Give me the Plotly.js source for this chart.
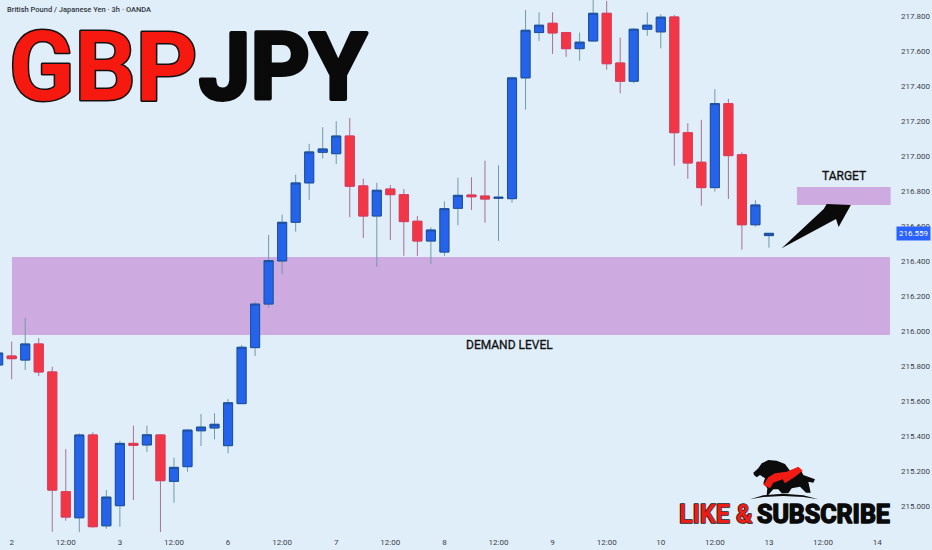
<!DOCTYPE html>
<html><head><meta charset="utf-8">
<script src="https://cdn.plot.ly/plotly-3.0.1.min.js"></script>
<style>html,body{margin:0;padding:0;background:#e0eef9}</style></head>
<body><div id="c" style="width:932px;height:550px"></div>
<script>
const idx=[-1,0,1,2,3,4,5,6,7,8,9,10,11,12,13,14,15,16,17,18,19,20,21,22,23,24,25,26,27,28,29,30,31,32,33,34,35,36,37,38,39,40,41,42,43,44,45,46,47,48,49,50,51,52,53,54,55,56];
const open=[215.806,215.857,215.834,215.926,215.766,215.082,214.933,215.406,214.887,215.002,215.358,215.349,215.406,215.141,215.225,215.43,215.446,215.345,215.585,215.905,216.154,216.4,216.621,216.846,217.021,217.013,217.114,216.829,216.657,216.811,216.779,216.627,216.514,216.451,216.701,216.777,216.771,216.758,216.756,217.446,217.705,217.758,217.705,217.613,217.657,217.815,217.531,217.427,217.724,217.709,217.794,217.133,216.964,216.819,217.299,217.007,216.607,216.545];
const high=[215.903,215.939,216.076,215.96,215.796,215.326,215.415,215.421,215.091,215.373,215.459,215.459,215.41,215.276,215.438,215.526,215.53,215.611,215.92,216.167,216.549,216.665,216.893,217.069,217.164,217.198,217.217,216.87,216.847,216.834,216.811,216.657,216.593,216.741,216.876,216.878,216.973,216.947,217.453,217.834,217.821,217.821,217.709,217.705,217.937,217.886,217.676,217.73,217.821,217.81,217.806,217.187,217.206,217.381,217.326,217.021,216.747,216.559];
const low=[215.777,215.724,215.777,215.743,214.853,214.916,214.851,214.876,214.87,214.882,215.034,215.309,214.851,215.019,215.196,215.343,215.381,215.301,215.585,215.857,216.133,216.324,216.567,216.749,216.985,216.954,216.65,216.531,216.367,216.52,216.429,216.429,216.383,216.429,216.604,216.691,216.619,216.514,216.733,217.265,217.657,217.583,217.566,217.545,217.651,217.493,217.358,217.415,217.686,217.615,216.945,216.87,216.716,216.796,216.754,216.465,216.596,216.476];
const close=[215.874,215.842,215.926,215.766,215.091,214.937,215.406,214.882,215.051,215.358,215.347,215.407,215.145,215.221,215.434,215.451,215.467,215.59,215.907,216.154,216.402,216.621,216.846,217.023,217.04,217.114,216.827,216.657,216.804,216.779,216.625,216.514,216.577,216.699,216.775,216.767,216.754,216.764,217.446,217.718,217.747,217.703,217.613,217.65,217.815,217.527,217.427,217.724,217.747,217.793,217.133,216.96,216.819,217.299,217.002,216.607,216.72,216.558];
const xTickVals=[0,4,8,12,16,20,24,28,32,36,40,44,48,52,56,60,64];
const xTickText=['2','12:00','3','12:00','6','12:00','7','12:00','8','12:00','9','12:00','10','12:00','13','12:00','14'];
const yTickVals=[215,215.2,215.4,215.6,215.8,216,216.2,216.4,216.6,216.8,217,217.2,217.4,217.6,217.8];
const lastPrice=216.559;
const demandZone=[215.977,216.423], targetZone=[216.72,216.823];

const W=892,H=533, X=p=>p/W, Y=p=>1-p/H;
const FONT='"Liberation Sans Narrow","Roboto",sans-serif', UI='Roboto,"Open Sans",sans-serif';
const BG='#e0eef9', ZONE='#cdaae0';
const blue='#2563eb', red='#f23645';
const wicks={type:'candlestick',x:idx,open,high,low,close,whiskerwidth:0,hoverinfo:'skip',showlegend:false,
  increasing:{line:{color:'#6f9ca8',width:1},fillcolor:'#6f9ca8'},
  decreasing:{line:{color:'#a8708f',width:1},fillcolor:'#a8708f'}};
const bodies={type:'candlestick',x:idx,open,close,
  high:open.map((o,i)=>Math.max(o,close[i])),low:open.map((o,i)=>Math.min(o,close[i])),
  whiskerwidth:0,hoverinfo:'skip',showlegend:false,
  increasing:{line:{color:'#1c4f9f',width:1},fillcolor:blue},
  decreasing:{line:{color:'#e23a57',width:1},fillcolor:red}};

// logo silhouette, pixel offsets from an anchor
const lg=(pts)=>'M'+pts.map(p=>(p[0]/3-110).toFixed(1)+','+(40-p[1]/3).toFixed(1)).join(' L')+' Z';
const bullBear=[[280,98],[295,85],[305,70],[325,60],[350,62],[375,72],[390,92],[420,85],[430,105],[465,118],[460,128],[445,125],[452,158],[438,158],[420,140],[395,145],[385,160],[365,160],[355,148],[340,148],[325,165],[320,165],[322,145],[310,130],[315,115],[300,105],[290,112],[282,105]];
const swoosh=[[310,135],[325,112],[345,100],[380,95],[415,80],[428,92],[405,110],[375,130],[368,118],[340,128],[330,145]];
const ground=[[270,178],[310,166],[370,161],[430,166],[475,178],[430,171],[370,168],[310,171]];
const logo=(path,fill)=>({type:'path',xref:'paper',yref:'paper',xsizemode:'pixel',ysizemode:'pixel',xanchor:770/W,yanchor:1-480/H,path,fillcolor:fill,line:{width:0}});

const layout={width:932,height:550,margin:{l:0,r:40,t:0,b:17},paper_bgcolor:BG,plot_bgcolor:BG,showlegend:false,dragmode:false,boxgap:0.33,boxgroupgap:0,boxmode:'overlay',
  xaxis:{type:'linear',range:[-0.865,65.1],rangeslider:{visible:false},showgrid:false,zeroline:false,showline:false,
    tickmode:'array',tickvals:xTickVals,ticktext:xTickText,ticks:'',ticklabelstandoff:3,tickfont:{family:UI,size:8,color:'#3a3f4a'}},
  yaxis:{side:'right',range:[214.846,217.891],showgrid:false,zeroline:false,showline:false,
    tickmode:'array',tickvals:yTickVals,tickformat:'.3f',ticks:'',ticklabelstandoff:8,tickfont:{family:UI,size:8,color:'#3a3f4a'}},
  shapes:[
    {type:'rect',layer:'below',xref:'x',yref:'y',x0:0.02,x1:64.95,y0:demandZone[0],y1:demandZone[1],fillcolor:ZONE,line:{width:0}},
    {type:'rect',layer:'below',xref:'x',yref:'y',x0:58.07,x1:65,y0:targetZone[0],y1:targetZone[1],fillcolor:ZONE,line:{width:0}},
    {type:'path',xref:'x',yref:'y',path:'M56.94,216.473 L60.05,216.697 L60.27,216.726 L62.06,216.72 L61.15,216.594 L60.96,216.64 Z',fillcolor:'#0a0a0a',line:{width:0}},
    logo(lg(bullBear),'#0c0c0c'),logo(lg(swoosh),'#f01c14'),logo(lg(ground),'#0c0c0c')
  ],
  annotations:[
    {text:'British Pound / Japanese Yen · 3h · OANDA',xref:'paper',yref:'paper',x:X(5),y:Y(10),xanchor:'left',yanchor:'middle',showarrow:false,font:{family:UI,size:7.5,weight:500,color:'#2f3540'}},
    {text:'GBP',xref:'paper',yref:'paper',x:X(7),y:Y(67),xanchor:'left',yanchor:'middle',showarrow:false,font:{family:FONT,size:96,weight:700,color:'#f5190f'}},
    {text:'JPY',xref:'paper',yref:'paper',x:X(197),y:Y(67),xanchor:'left',yanchor:'middle',showarrow:false,font:{family:FONT,size:92,weight:700,color:'#0a0a0a'}},
    {text:'TARGET',xref:'paper',yref:'paper',x:X(844),y:Y(176),xanchor:'center',yanchor:'middle',showarrow:false,font:{family:FONT,size:12,color:'#111'}},
    {text:'DEMAND LEVEL',xref:'paper',yref:'paper',x:X(509),y:Y(345),xanchor:'center',yanchor:'middle',showarrow:false,font:{family:FONT,size:12,color:'#111'}},
    {text:lastPrice.toFixed(3),xref:'paper',yref:'y',x:1,y:lastPrice,xanchor:'left',yanchor:'middle',xshift:4,showarrow:false,bgcolor:'#2962ff',borderpad:2,font:{family:UI,size:8,color:'#fff'}},
    {text:'LIKE &',xref:'paper',yref:'paper',x:X(677),y:Y(514),xanchor:'left',yanchor:'middle',showarrow:false,font:{family:FONT,size:25,weight:700,color:'#ec1c16'}},
    {text:'SUBSCRIBE',xref:'paper',yref:'paper',x:X(755),y:Y(514),xanchor:'left',yanchor:'middle',showarrow:false,font:{family:FONT,size:25,weight:700,color:'#0a0a0a'}}
  ]};
Plotly.newPlot('c',[wicks,bodies],layout,{staticPlot:true,displayModeBar:false}).then(()=>{
  const sw={'GBP':[3,'#111'],'JPY':[4,'#0a0a0a'],'LIKE &':[1.5,'#222'],'SUBSCRIBE':[1.5,'#0a0a0a'],'TARGET':[0.3,'#111'],'DEMAND LEVEL':[0.3,'#111']};
  document.querySelectorAll('.annotation-text').forEach(t=>{const s=sw[t.textContent];
    if(s){t.style.stroke=s[1];t.style.strokeWidth=s[0]+'px';t.style.strokeLinejoin='round';t.style.paintOrder='stroke';}});
});
</script></body></html>
